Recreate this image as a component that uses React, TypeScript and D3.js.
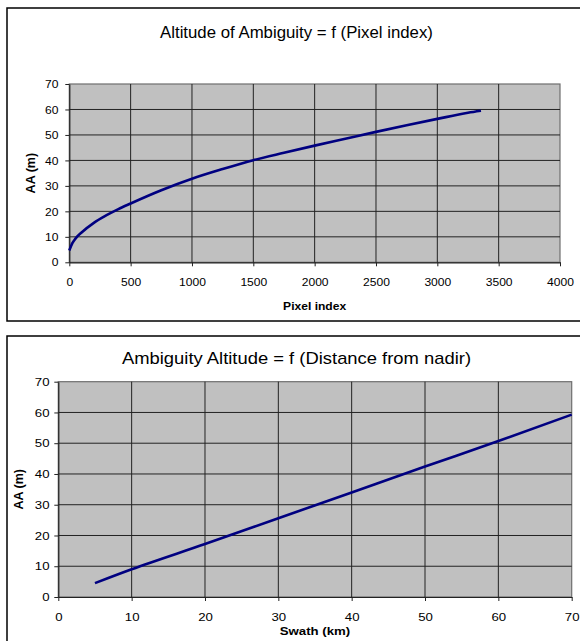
import React, { useEffect, useRef } from 'react';
import * as d3 from 'd3';

// Altitude of ambiguity versus pixel index
const pixelIndex = [0, 25, 50, 100, 200, 300, 400, 500, 750, 1000, 1250, 1500, 1750, 2000, 2250, 2500, 2750, 3000, 3250, 3356];
const aaByPixel = [4.6, 7.5, 9.3, 11.7, 15.5, 18.4, 20.9, 23.1, 28.3, 32.8, 36.6, 40.1, 43.0, 45.8, 48.5, 51.2, 53.8, 56.3, 58.7, 59.5];

// Altitude of ambiguity versus distance from nadir
const swathKm = [5, 10, 20, 30, 40, 50, 60, 70];
const aaBySwath = [4.5, 9.0, 17.2, 25.6, 34.0, 42.4, 50.7, 59.3];

const pixelTicks = [0, 500, 1000, 1500, 2000, 2500, 3000, 3500, 4000];
const swathTicks = [0, 10, 20, 30, 40, 50, 60, 70];
const aaTicks = [0, 10, 20, 30, 40, 50, 60, 70];

const FONT = '"Liberation Sans", Arial, sans-serif';

interface Panel {
  frame: [number, number, number, number];
  plot: { left: number; right: number; top: number; bottom: number };
  stretch: number; // horizontal text stretch of the panel
  title: string;
  titleX: number;
  titleY: number;
  titleSize: number;
  xTitle: string;
  xTitleY: number;
  yTitle: string;
  yTitleX: number;
  xDomain: [number, number];
  xTicks: number[];
  xs: number[];
  ys: number[];
  yLabelRight: number;
}

const panels: Panel[] = [
  {
    frame: [7, 8, 590, 313],
    plot: { left: 69.3, right: 560, top: 84, bottom: 262.3 },
    stretch: 1.05,
    title: 'Altitude of Ambiguity = f (Pixel index)',
    titleX: 296.5,
    titleY: 38,
    titleSize: 16,
    xTitle: 'Pixel index',
    xTitleY: 310,
    yTitle: 'AA (m)',
    yTitleX: 35,
    xDomain: [0, 4000],
    xTicks: pixelTicks,
    xs: pixelIndex,
    ys: aaByPixel,
    yLabelRight: 58.5,
  },
  {
    frame: [7, 336, 590, 320],
    plot: { left: 58.3, right: 571.7, top: 381.7, bottom: 597 },
    stretch: 1.15,
    title: 'Ambiguity Altitude = f (Distance from nadir)',
    titleX: 296.5,
    titleY: 364.5,
    titleSize: 16,
    xTitle: 'Swath (km)',
    xTitleY: 635,
    yTitle: 'AA (m)',
    yTitleX: 23,
    xDomain: [0, 70],
    xTicks: swathTicks,
    xs: swathKm,
    ys: aaBySwath,
    yLabelRight: 49.5,
  },
];

function drawPanel(svg: d3.Selection<SVGSVGElement, unknown, null, undefined>, p: Panel) {
  const g = svg.append('g');
  const s = p.stretch;
  const [fx, fy, fw, fh] = p.frame;
  g.append('rect')
    .attr('x', fx)
    .attr('y', fy)
    .attr('width', fw)
    .attr('height', fh)
    .attr('fill', '#fff')
    .attr('stroke', '#000')
    .attr('stroke-width', 1.5);

  const x = d3.scaleLinear().domain(p.xDomain).range([p.plot.left, p.plot.right]);
  const y = d3.scaleLinear().domain([0, 70]).range([p.plot.bottom, p.plot.top]);

  g.append('rect')
    .attr('x', p.plot.left)
    .attr('y', p.plot.top)
    .attr('width', p.plot.right - p.plot.left)
    .attr('height', p.plot.bottom - p.plot.top)
    .attr('fill', '#c0c0c0')
    .attr('stroke', '#6e6e6e')
    .attr('stroke-width', 1.2);

  // gridlines
  g.append('g')
    .selectAll('line')
    .data(aaTicks.slice(1, -1))
    .join('line')
    .attr('x1', p.plot.left)
    .attr('x2', p.plot.right)
    .attr('y1', (d) => y(d))
    .attr('y2', (d) => y(d))
    .attr('stroke', '#222')
    .attr('stroke-width', 1);
  g.append('g')
    .selectAll('line')
    .data(p.xTicks.slice(1, -1))
    .join('line')
    .attr('x1', (d) => x(d))
    .attr('x2', (d) => x(d))
    .attr('y1', p.plot.top)
    .attr('y2', p.plot.bottom)
    .attr('stroke', '#222')
    .attr('stroke-width', 1);

  // axes
  const xAxis = g
    .append('g')
    .attr('transform', `translate(0,${p.plot.bottom})`)
    .call(d3.axisBottom(x).tickValues(p.xTicks).tickSize(4).tickSizeOuter(0).tickPadding(12).tickFormat(d3.format('d')));
  const yAxis = g
    .append('g')
    .attr('transform', `translate(${p.plot.left},0)`)
    .call(d3.axisLeft(y).tickValues(aaTicks).tickSize(4).tickSizeOuter(0).tickFormat(d3.format('d')));
  [xAxis, yAxis].forEach((a) => {
    a.select('.domain').attr('stroke', '#222').attr('stroke-width', 1.2);
    a.selectAll('.tick line').attr('stroke', '#222');
    a.selectAll('.tick text')
      .attr('fill', '#000')
      .style('font-family', FONT)
      .style('font-size', '11.5px');
  });
  xAxis.selectAll('.tick text').attr('transform', `scale(${s},1)`);
  yAxis
    .selectAll('.tick text')
    .attr('x', (p.yLabelRight - p.plot.left) / s)
    .attr('transform', `scale(${s},1)`);

  // series line
  const line = d3
    .line<number>()
    .x((_, i) => x(p.xs[i]))
    .y((d) => y(d))
    .curve(d3.curveMonotoneX);
  g.append('path')
    .attr('d', line(p.ys))
    .attr('fill', 'none')
    .attr('stroke', '#000080')
    .attr('stroke-width', 2.6);

  // titles
  const cx = (p.plot.left + p.plot.right) / 2;
  g.append('text')
    .attr('transform', `scale(${s},1)`)
    .attr('x', p.titleX / s)
    .attr('y', p.titleY)
    .attr('text-anchor', 'middle')
    .style('font-family', FONT)
    .style('font-size', `${p.titleSize}px`)
    .text(p.title);
  g.append('text')
    .attr('transform', `scale(${s},1)`)
    .attr('x', cx / s)
    .attr('y', p.xTitleY)
    .attr('text-anchor', 'middle')
    .style('font-family', FONT)
    .style('font-size', '11.5px')
    .style('font-weight', 'bold')
    .text(p.xTitle);
  const cy = (p.plot.top + p.plot.bottom) / 2;
  g.append('text')
    .attr('transform', `translate(${p.yTitleX},${cy}) rotate(-90)`)
    .attr('text-anchor', 'middle')
    .style('font-family', FONT)
    .style('font-size', '12.5px')
    .style('font-weight', 'bold')
    .text(p.yTitle);
}

export default function App() {
  const ref = useRef<SVGSVGElement>(null);
  useEffect(() => {
    if (!ref.current) return;
    const svg = d3.select(ref.current);
    svg.selectAll('*').remove();
    panels.forEach((p) => drawPanel(svg, p));
  }, []);
  return (
    <svg
      ref={ref}
      width={580}
      height={641}
      style={{ position: 'absolute', left: 0, top: 0, background: '#fff' }}
    />
  );
}
